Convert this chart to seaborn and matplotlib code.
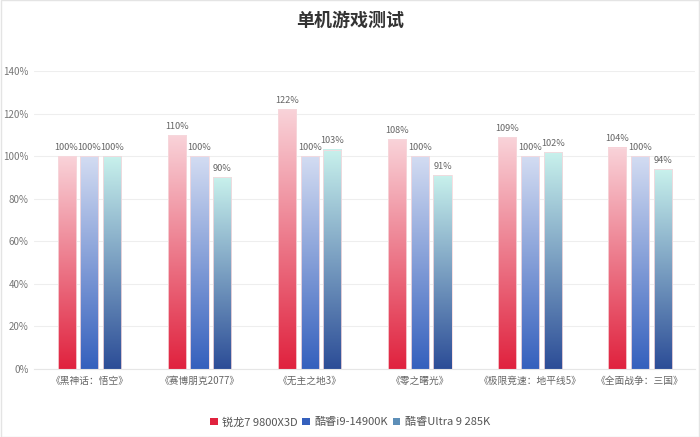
import numpy as np
import pandas as pd
import seaborn as sns
import matplotlib.pyplot as plt
from matplotlib.colors import LinearSegmentedColormap
from matplotlib.patches import Patch

games = ["《黑神话：悟空》", "《赛博朋克2077》", "《无主之地3》", "《零之曙光》",
         "《极限竞速：地平线5》", "《全面战争：三国》"]
cpus = ["锐龙7 9800X3D", "酷睿i9-14900K", "酷睿Ultra 9 285K"]
amd = [100, 110, 122, 108, 109, 104]
i9 = [100, 100, 100, 100, 100, 100]
ultra = [100, 90, 103, 91, 102, 94]
yticks = [0, 20, 40, 60, 80, 100, 120, 140]

# gradient colours: (bottom, top)
grads = [("#e0223e", "#f9d3d9"), ("#3560bd", "#d3dcf2"), ("#2c4d97", "#c8f1ec")]
solid = ["#e0223e", "#3560bd", "#5d8fb8"]

df = pd.DataFrame({
    "game": games * 3,
    "cpu": [cpus[0]] * 6 + [cpus[1]] * 6 + [cpus[2]] * 6,
    "val": amd + i9 + ultra,
})

sns.set_style("white")
plt.rcParams['font.family'] = ['Noto Sans CJK SC', 'DejaVu Sans']

fig = plt.figure(figsize=(7, 4.37), dpi=100)
ax = fig.add_axes([0.049, 0.156, 0.944, 0.6815])

sns.barplot(data=df, x="game", y="val", hue="cpu", hue_order=cpus,
            palette=solid, width=0.62, gap=0.2, legend=False, ax=ax)

ax.set_ylim(0, 140)
ax.set_xlim(-0.5, 5.5)
ax.set_yticks(yticks)
ax.set_yticklabels([f"{t}%" for t in yticks], color="#777777", fontsize=7)
ax.tick_params(axis="x", labelsize=7, labelcolor="#666666", length=0, pad=5)
ax.tick_params(axis="y", length=0, pad=4)
ax.set_xlabel("")
ax.set_ylabel("")
ax.yaxis.grid(True, color="#eeeeee", linewidth=0.8)
ax.set_axisbelow(True)
for s in ["top", "right", "left"]:
    ax.spines[s].set_visible(False)
ax.spines["bottom"].set_color("#e6e6e6")

for ci, cont in enumerate(ax.containers):
    cmap = LinearSegmentedColormap.from_list("g%d" % ci, [grads[ci][0], grads[ci][1]])
    for bar in cont:
        x0, y0 = bar.get_x(), bar.get_y()
        w, h = bar.get_width(), bar.get_height()
        grad = np.linspace(0, 1, 256).reshape(-1, 1)
        ax.imshow(grad, cmap=cmap, origin="lower", aspect="auto",
                  extent=[x0, x0 + w, y0, y0 + h], zorder=2)
        bar.set_facecolor("none")
        bar.set_edgecolor("#f6d9dd")
        bar.set_linewidth(0.6)
        bar.set_zorder(3)
        ax.text(x0 + w / 2, y0 + h + 2, f"{h:.0f}%", ha="center", va="bottom",
                fontsize=6.6, color="#666666")

ax.set_xlim(-0.5, 5.5)
ax.set_ylim(0, 140)

fig.text(0.5, 0.953, "单机游戏测试", ha="center", va="center",
         fontsize=13, fontweight="bold", color="#333333")

handles = [Patch(facecolor=solid[i], edgecolor="none", label=cpus[i]) for i in range(3)]
fig.legend(handles=handles, loc="center", bbox_to_anchor=(0.5, 0.034), ncol=3,
           frameon=False, fontsize=8, handlelength=0.7, handleheight=0.7,
           handletextpad=0.4, columnspacing=0.4, labelcolor="#555555")

fig.patches.append(plt.Rectangle((0.001, 0.001), 0.998, 0.998, transform=fig.transFigure,
                                 fill=False, edgecolor="#e4e4e4", linewidth=1))

fig.savefig("out.png", dpi=100)
